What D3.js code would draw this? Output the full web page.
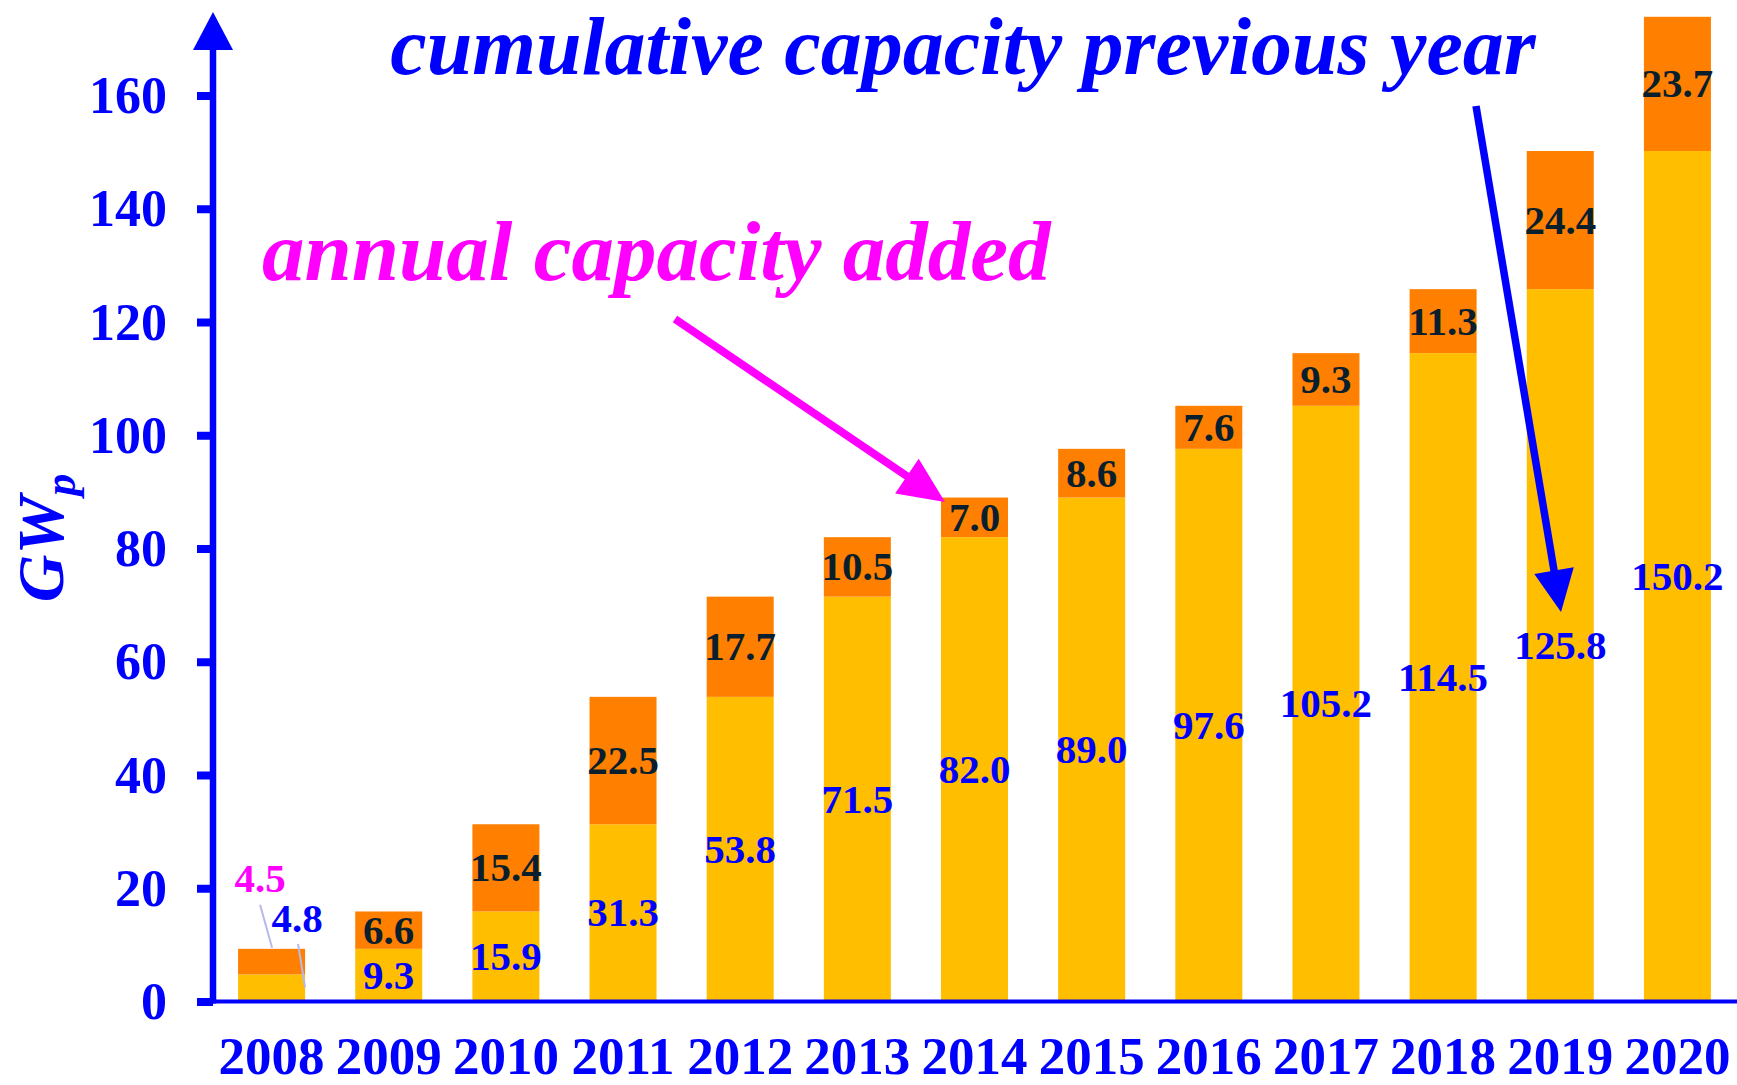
<!DOCTYPE html>
<html>
<head>
<meta charset="utf-8">
<script src="https://cdn.jsdelivr.net/npm/d3@7"></script>
<style>
  html, body { margin: 0; padding: 0; background: #ffffff; }
  svg { display: block; }
  text { font-family: "Liberation Serif", "Times New Roman", serif; font-weight: bold; }
</style>
</head>
<body>
<svg id="chart" width="1737" height="1085"></svg>
<script>
// ---- data ----
const years = ["2008","2009","2010","2011","2012","2013","2014","2015","2016","2017","2018","2019","2020"];
const cumulativePrev = [4.8, 9.3, 15.9, 31.3, 53.8, 71.5, 82.0, 89.0, 97.6, 105.2, 114.5, 125.8, 150.2];
const annualAdded   = [4.5, 6.6, 15.4, 22.5, 17.7, 10.5, 7.0, 8.6, 7.6, 9.3, 11.3, 24.4, 23.7];
const yTicks = [0, 20, 40, 60, 80, 100, 120, 140, 160];
const yTitle = "GW";
const yTitleSub = "p";
const annotAnnual = "annual capacity added";
const annotCumulative = "cumulative capacity previous year";

const BLUE = "#0000ff", MAGENTA = "#ff00ff", YELLOW = "#ffbf00", ORANGE = "#ff8000", DARK = "#0a1f2e";

const svg = d3.select("#chart");
const axisX = 213, baseY = 1001.5;

const x = d3.scaleBand().domain(years).range([axisX, 1736]).paddingInner(0.428).paddingOuter(0.214);
const y = d3.scaleLinear().domain([0, 160]).range([baseY, 95.5]);

const rows = years.map((yr, i) => ({ year: yr, prev: cumulativePrev[i], add: annualAdded[i] }));

// ---- bars ----
const g = svg.append("g");
g.selectAll("rect.prev").data(rows).join("rect")
  .attr("class", "prev")
  .attr("x", d => x(d.year)).attr("width", x.bandwidth())
  .attr("y", d => y(d.prev)).attr("height", d => y(0) - y(d.prev))
  .attr("fill", YELLOW);
g.selectAll("rect.add").data(rows).join("rect")
  .attr("class", "add")
  .attr("x", d => x(d.year)).attr("width", x.bandwidth())
  .attr("y", d => y(d.prev + d.add)).attr("height", d => y(d.prev) - y(d.prev + d.add))
  .attr("fill", ORANGE);

// ---- labels inside bars (skip first year, labelled outside) ----
const inner = rows.slice(1);
g.selectAll("text.lprev").data(inner).join("text")
  .attr("x", d => x(d.year) + x.bandwidth() / 2)
  .attr("y", d => (y(d.prev) + y(0)) / 2)
  .attr("dy", "0.33em")
  .attr("text-anchor", "middle").attr("font-size", 41).attr("fill", BLUE)
  .text(d => d.prev.toFixed(1));
g.selectAll("text.ladd").data(inner).join("text")
  .attr("x", d => x(d.year) + x.bandwidth() / 2)
  .attr("y", d => (y(d.prev) + y(d.prev + d.add)) / 2)
  .attr("dy", "0.33em")
  .attr("text-anchor", "middle").attr("font-size", 41).attr("fill", DARK)
  .text(d => d.add.toFixed(1));

// first year: labels outside with leader lines
const f = rows[0];
const fx = x(f.year);
g.append("line").attr("x1", fx + 22).attr("y1", y(f.prev + f.add) - 44)
  .attr("x2", fx + 34).attr("y2", y(f.prev + f.add) - 1)
  .attr("stroke", "#b8b8ee").attr("stroke-width", 2);
g.append("line").attr("x1", fx + 60).attr("y1", y(f.prev + f.add) - 5)
  .attr("x2", fx + 67).attr("y2", y(0) - 14)
  .attr("stroke", "#b8b8ee").attr("stroke-width", 2);
g.append("text").attr("x", fx + 22).attr("y", y(f.prev + f.add) - 57)
  .attr("text-anchor", "middle").attr("font-size", 41).attr("fill", MAGENTA)
  .text(f.add.toFixed(1));
g.append("text").attr("x", fx + 59).attr("y", y(f.prev + f.add) - 17)
  .attr("text-anchor", "middle").attr("font-size", 41).attr("fill", BLUE)
  .text(f.prev.toFixed(1));

// ---- y axis ----
const yAxis = svg.append("g").attr("transform", `translate(${axisX},0)`)
  .call(d3.axisLeft(y).tickValues(yTicks).tickSize(16).tickSizeOuter(0).tickPadding(30));
yAxis.select(".domain").remove();
yAxis.selectAll(".tick line").attr("stroke", BLUE).attr("stroke-width", 8);
yAxis.selectAll(".tick text").attr("fill", BLUE).attr("font-size", 52)
  .attr("font-family", "Liberation Serif").attr("font-weight", "bold").attr("dy", "0.33em");

svg.append("line").attr("x1", axisX).attr("x2", axisX).attr("y1", baseY + 2).attr("y2", 48)
  .attr("stroke", BLUE).attr("stroke-width", 6.5);
svg.append("path").attr("d", `M${axisX},12 L${axisX + 20},50 L${axisX - 20},50 Z`).attr("fill", BLUE);

// ---- x axis ----
svg.append("line").attr("x1", axisX).attr("x2", 1737).attr("y1", baseY).attr("y2", baseY)
  .attr("stroke", BLUE).attr("stroke-width", 4);
const xAxis = svg.append("g").attr("transform", `translate(0,${baseY})`)
  .call(d3.axisBottom(x).tickSize(0).tickPadding(0));
xAxis.select(".domain").remove();
xAxis.selectAll(".tick text").attr("fill", BLUE).attr("font-size", 53)
  .attr("font-family", "Liberation Serif").attr("font-weight", "bold")
  .attr("y", 72.5).attr("dy", 0);

// ---- y title ----
const yt = svg.append("text").attr("transform", "translate(63,538) rotate(-90)")
  .attr("text-anchor", "middle").attr("fill", BLUE)
  .attr("font-style", "italic").attr("font-size", 66);
yt.append("tspan").text(yTitle);
yt.append("tspan").attr("font-size", 44).attr("dy", 12).text(yTitleSub);

// ---- annotations ----
svg.append("text").attr("x", 963).attr("y", 74).attr("text-anchor", "middle").attr("fill", BLUE)
  .attr("font-style", "italic").attr("font-size", 82).text(annotCumulative);
svg.append("text").attr("x", 262).attr("y", 280).attr("fill", MAGENTA)
  .attr("font-style", "italic").attr("font-size", 85).text(annotAnnual);

function arrow(x1, y1, x2, y2, color, w, headLen, headW) {
  const dx = x2 - x1, dy = y2 - y1, L = Math.hypot(dx, dy);
  const ux = dx / L, uy = dy / L, px = -uy, py = ux;
  const bx = x2 - ux * headLen, by = y2 - uy * headLen;
  svg.append("line").attr("x1", x1).attr("y1", y1).attr("x2", bx + ux * 2).attr("y2", by + uy * 2)
    .attr("stroke", color).attr("stroke-width", w);
  svg.append("path").attr("d",
    `M${x2},${y2} L${bx + px * headW / 2},${by + py * headW / 2} L${bx - px * headW / 2},${by - py * headW / 2} Z`)
    .attr("fill", color);
}
arrow(675, 319, 945, 502, MAGENTA, 8, 46, 42);
arrow(1476, 106, 1561, 612, BLUE, 7.5, 42, 40);
</script>
</body>
</html>
